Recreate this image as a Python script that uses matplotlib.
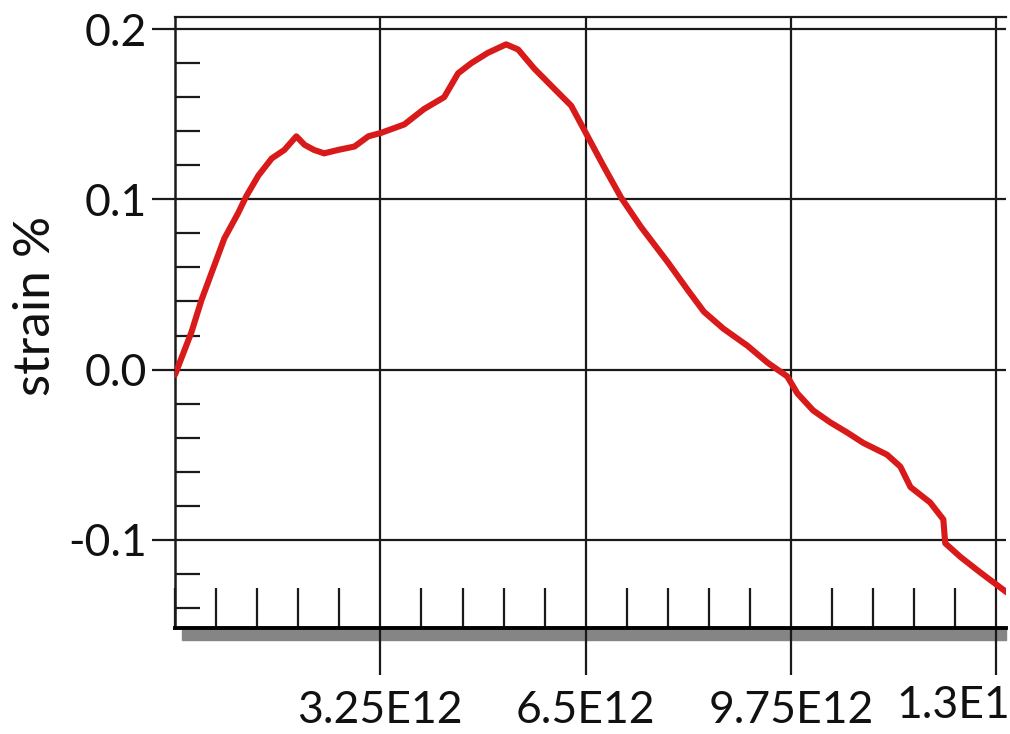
import matplotlib
matplotlib.use("Agg")
import matplotlib.pyplot as plt
from matplotlib.ticker import MultipleLocator, FixedLocator, FixedFormatter
from matplotlib.transforms import ScaledTranslation
from matplotlib.patches import Rectangle

# strain curve, x in units of 1E12
x_e12 = [0.0, 0.26, 0.42, 0.58, 0.78, 1.00, 1.13, 1.32, 1.53, 1.73, 1.92,
         2.05, 2.20, 2.36, 2.58, 2.84, 3.06, 3.26, 3.63, 3.94, 4.26, 4.48,
         4.69, 4.95, 5.24, 5.43, 5.68, 6.00, 6.27, 6.53, 6.79, 7.06, 7.37,
         7.80, 8.11, 8.37, 8.68, 9.06, 9.38, 9.69, 9.85, 10.10, 10.37, 10.64,
         10.89, 11.27, 11.48, 11.64, 11.95, 12.16, 12.19, 12.43, 12.74, 13.17]
strain_pct = [-0.003, 0.022, 0.041, 0.057, 0.077, 0.092, 0.102, 0.114, 0.124,
              0.129, 0.137, 0.132, 0.129, 0.127, 0.129, 0.131, 0.137, 0.139,
              0.144, 0.153, 0.160, 0.174, 0.180, 0.186, 0.191, 0.188, 0.177,
              0.165, 0.155, 0.137, 0.119, 0.101, 0.084, 0.063, 0.047, 0.034,
              0.024, 0.014, 0.004, -0.004, -0.014, -0.024, -0.031, -0.037,
              -0.043, -0.050, -0.057, -0.069, -0.078, -0.088, -0.102, -0.110,
              -0.119, -0.131]

x_tick_values = [3.25, 6.5, 9.75, 13.0]
x_tick_labels = ["3.25E12", "6.5E12", "9.75E12", "1.3E13"]
y_tick_values = [-0.1, 0.0, 0.1, 0.2]
y_tick_labels = ["-0.1", "0.0", "0.1", "0.2"]
y_label = "strain %"

plt.rcParams['font.family'] = ['Lato', 'DejaVu Sans']

fig = plt.figure(figsize=(10.10, 7.34), dpi=100)
ax = fig.add_axes([0.1733, 0.1448, 0.8228, 0.8314])

ax.plot(x_e12, strain_pct, color='#d91a1a', lw=4.4,
        solid_joinstyle='round', solid_capstyle='round', zorder=3)

ax.set_xlim(0, 13.153)
ax.set_ylim(-0.1516, 0.2068)

ax.xaxis.set_major_locator(FixedLocator(x_tick_values))
ax.xaxis.set_major_formatter(FixedFormatter(x_tick_labels))
ax.xaxis.set_minor_locator(MultipleLocator(0.65))
ax.yaxis.set_major_locator(FixedLocator(y_tick_values))
ax.yaxis.set_major_formatter(FixedFormatter(y_tick_labels))
ax.yaxis.set_minor_locator(MultipleLocator(0.02))

ink = '#1a1a1a'
ax.grid(which='major', color=ink, lw=1.6)
ax.set_axisbelow(True)

ax.tick_params(axis='x', which='major', direction='out', length=34, width=1.6,
               color=ink, labelsize=32, pad=11, labelcolor='#111111')
ax.tick_params(axis='x', which='minor', direction='in', length=29, width=1.6,
               color=ink)
ax.tick_params(axis='y', which='major', direction='out', length=16.5, width=1.6,
               color=ink, labelsize=32, pad=4, labelcolor='#111111')
ax.tick_params(axis='y', which='minor', direction='in', length=18, width=1.6,
               color=ink)

ax.spines['right'].set_visible(False)
ax.spines['top'].set_linewidth(1.6)
ax.spines['top'].set_color(ink)
ax.spines['left'].set_linewidth(1.8)
ax.spines['left'].set_color(ink)
ax.spines['bottom'].set_linewidth(2.8)
ax.spines['bottom'].set_color('#000000')

# last tick label sits a little left and up
last = ax.get_xticklabels()[-1]
last.set_transform(last.get_transform() +
                   ScaledTranslation(-0.30, 0.05, fig.dpi_scale_trans))

# gray shadow beneath the bottom axis line
fig.patches.append(Rectangle((182 / 1010, (734 - 640) / 734), 824 / 1010, 11 / 734,
                             transform=fig.transFigure, color='#858585',
                             zorder=-1))

fig.text(36 / 1010, 1 - 306 / 734, y_label, rotation=90, ha='center',
         va='center', fontsize=37, color='#111111')

fig.savefig('out.png', dpi=100, facecolor='white')
